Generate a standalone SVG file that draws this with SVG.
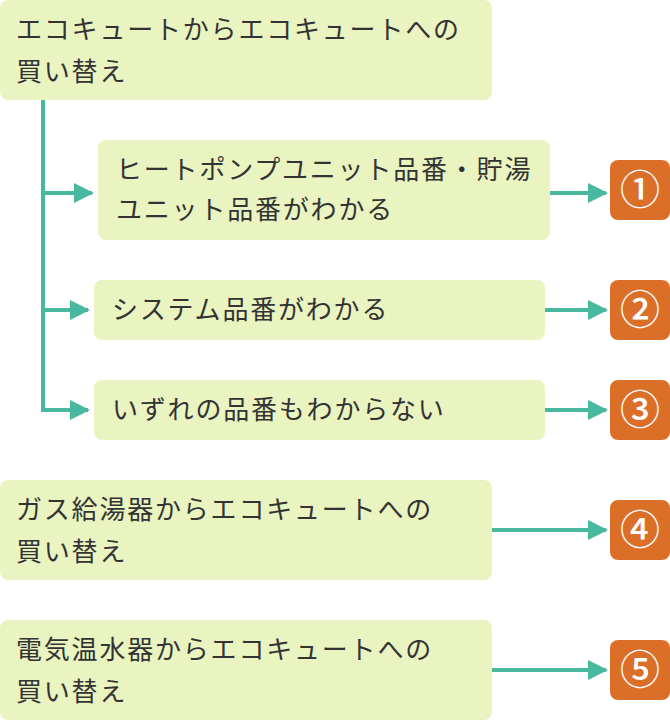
<svg xmlns="http://www.w3.org/2000/svg" width="670" height="720" viewBox="0 0 670 720">
<style>
.b{fill:#e9f4c0}
.o{fill:#dc6f28}
.t{font-family:"Noto Sans CJK JP","Noto Sans",sans-serif;font-size:26px;letter-spacing:1.8px;fill:#333}
.n{font-family:"Noto Sans CJK JP","Noto Sans",sans-serif;font-size:40px;font-weight:500;fill:#fff;text-anchor:middle}
.c{stroke:#48b99f;stroke-width:4;fill:none}
</style>
<defs><marker id="a" viewBox="0 0 10 10" refX="9" refY="5" markerWidth="6" markerHeight="5" markerUnits="strokeWidth" orient="auto"><path d="M0,0L10,5L0,10z" fill="#48b99f"/></marker></defs>
<g id="connectors">
<path class="c" d="M43,100V410"/>
<path class="c" d="M41,193H92" marker-end="url(#a)"/>
<path class="c" d="M41,310H88" marker-end="url(#a)"/>
<path class="c" d="M41,410H88" marker-end="url(#a)"/>
<path class="c" d="M550,193H606" marker-end="url(#a)"/>
<path class="c" d="M545,310H606" marker-end="url(#a)"/>
<path class="c" d="M545,410H606" marker-end="url(#a)"/>
<path class="c" d="M492,530H606" marker-end="url(#a)"/>
<path class="c" d="M492,670H606" marker-end="url(#a)"/>
</g>
<g id="n1"><rect class="b" x="0" y="0" width="492" height="100" rx="8"/><text class="t" x="16" y="39">エコキュートからエコキュートへの</text><text class="t" x="16" y="81">買い替え</text></g>
<g id="n2"><rect class="b" x="98" y="140" width="452" height="100" rx="8"/><text class="t" x="116" y="179">ヒートポンプユニット品番・貯湯</text><text class="t" x="116" y="219">ユニット品番がわかる</text></g>
<g id="n3"><rect class="b" x="94" y="280" width="451" height="60" rx="8"/><text class="t" x="112" y="319">システム品番がわかる</text></g>
<g id="n4"><rect class="b" x="94" y="380" width="451" height="60" rx="8"/><text class="t" x="112" y="419">いずれの品番もわからない</text></g>
<g id="n5"><rect class="b" x="0" y="480" width="492" height="100" rx="8"/><text class="t" x="16" y="519">ガス給湯器からエコキュートへの</text><text class="t" x="16" y="561">買い替え</text></g>
<g id="n6"><rect class="b" x="0" y="620" width="492" height="100" rx="8"/><text class="t" x="16" y="659">電気温水器からエコキュートへの</text><text class="t" x="16" y="701">買い替え</text></g>
<g id="r1"><rect class="o" x="610" y="160" width="60" height="60" rx="8"/><text class="n" x="640" y="204">①</text></g>
<g id="r2"><rect class="o" x="610" y="280" width="60" height="60" rx="8"/><text class="n" x="640" y="324">②</text></g>
<g id="r3"><rect class="o" x="610" y="380" width="60" height="60" rx="8"/><text class="n" x="640" y="424">③</text></g>
<g id="r4"><rect class="o" x="610" y="500" width="60" height="60" rx="8"/><text class="n" x="640" y="544">④</text></g>
<g id="r5"><rect class="o" x="610" y="640" width="60" height="60" rx="8"/><text class="n" x="640" y="684">⑤</text></g>
</svg>
